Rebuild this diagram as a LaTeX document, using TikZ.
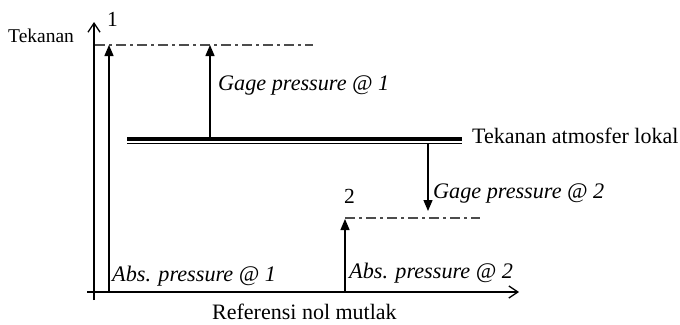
\documentclass[tikz,border=0pt]{standalone}
\usepackage{fontspec}
\setmainfont{Liberation Serif}
\usetikzlibrary{arrows.meta}
\begin{document}
\begin{tikzpicture}[x=1pt,y=-1pt,
  axis/.style={line width=1.3pt,-{Straight Barb[length=9pt,width=12pt,line width=1.3pt]}},
  parrow/.style={line width=1.3pt,-{Triangle[length=11pt,width=9pt]}},
  dashdot/.style={line width=1.1pt,draw=black!70,dash pattern=on 10pt off 4pt on 3pt off 4pt},
  lbl/.style={inner sep=0pt,anchor=base west,font=\fontsize{20.5}{22}\selectfont},
  ilbl/.style={lbl,font=\fontsize{22.2}{24}\selectfont\itshape}]
\useasboundingbox (0,0) rectangle (680,324);
% axes
\coordinate (yb) at (94,300);
\coordinate (yt) at (94,22);
\coordinate (xl) at (87,292);
\coordinate (xr) at (519,292);
\draw[axis] (yb) -- (yt);
\draw[axis] (xl) -- (xr);
% level 1
\coordinate (l1a) at (95,45);
\coordinate (l1b) at (313,45);
\draw[dashdot] (l1a) -- (l1b);
\coordinate (a1b) at (109,292);
\coordinate (a1t) at (109,45);
\draw[parrow] (a1b) -- (a1t);
% atmosphere
\coordinate (atl) at (127,139);
\coordinate (atr) at (462,139);
\coordinate (atl2) at (127,143.5);
\coordinate (atr2) at (462,143.5);
\draw[line width=4pt] (atl) -- (atr);
\draw[line width=1.4pt] (atl2) -- (atr2);
\coordinate (g1b) at (210,137);
\coordinate (g1t) at (210,45);
\draw[parrow] (g1b) -- (g1t);
% level 2
\coordinate (l2a) at (345,218);
\coordinate (l2b) at (480,218);
\draw[dashdot] (l2a) -- (l2b);
\coordinate (g2t) at (428,144);
\coordinate (g2b) at (428,211);
\draw[parrow] (g2t) -- (g2b);
\coordinate (a2b) at (345,292);
\coordinate (a2t) at (345,219);
\draw[parrow] (a2b) -- (a2t);
% labels
\node[lbl,font=\fontsize{19.5}{21}\selectfont] (tek) at (8,42) {Tekanan};
\node[lbl,font=\fontsize{21.5}{23}\selectfont] (one) at (107,26) {1};
\node[ilbl] (gp1) at (218,90) {Gage pressure @ 1};
\node[lbl,font=\fontsize{22}{24}\selectfont] (atm) at (472,143) {Tekanan atmosfer lokal};
\node[lbl,font=\fontsize{21.5}{23}\selectfont] (two) at (344,203) {2};
\node[ilbl] (gp2) at (433,198) {Gage pressure @ 2};
\node[ilbl] (ap2) at (349,278) {Abs. pressure @ 2};
\node[ilbl] (ap1) at (112,281) {Abs. pressure @ 1};
\node[lbl,font=\fontsize{22}{24}\selectfont] (ref) at (212,319) {Referensi nol mutlak};
\end{tikzpicture}
\end{document}
